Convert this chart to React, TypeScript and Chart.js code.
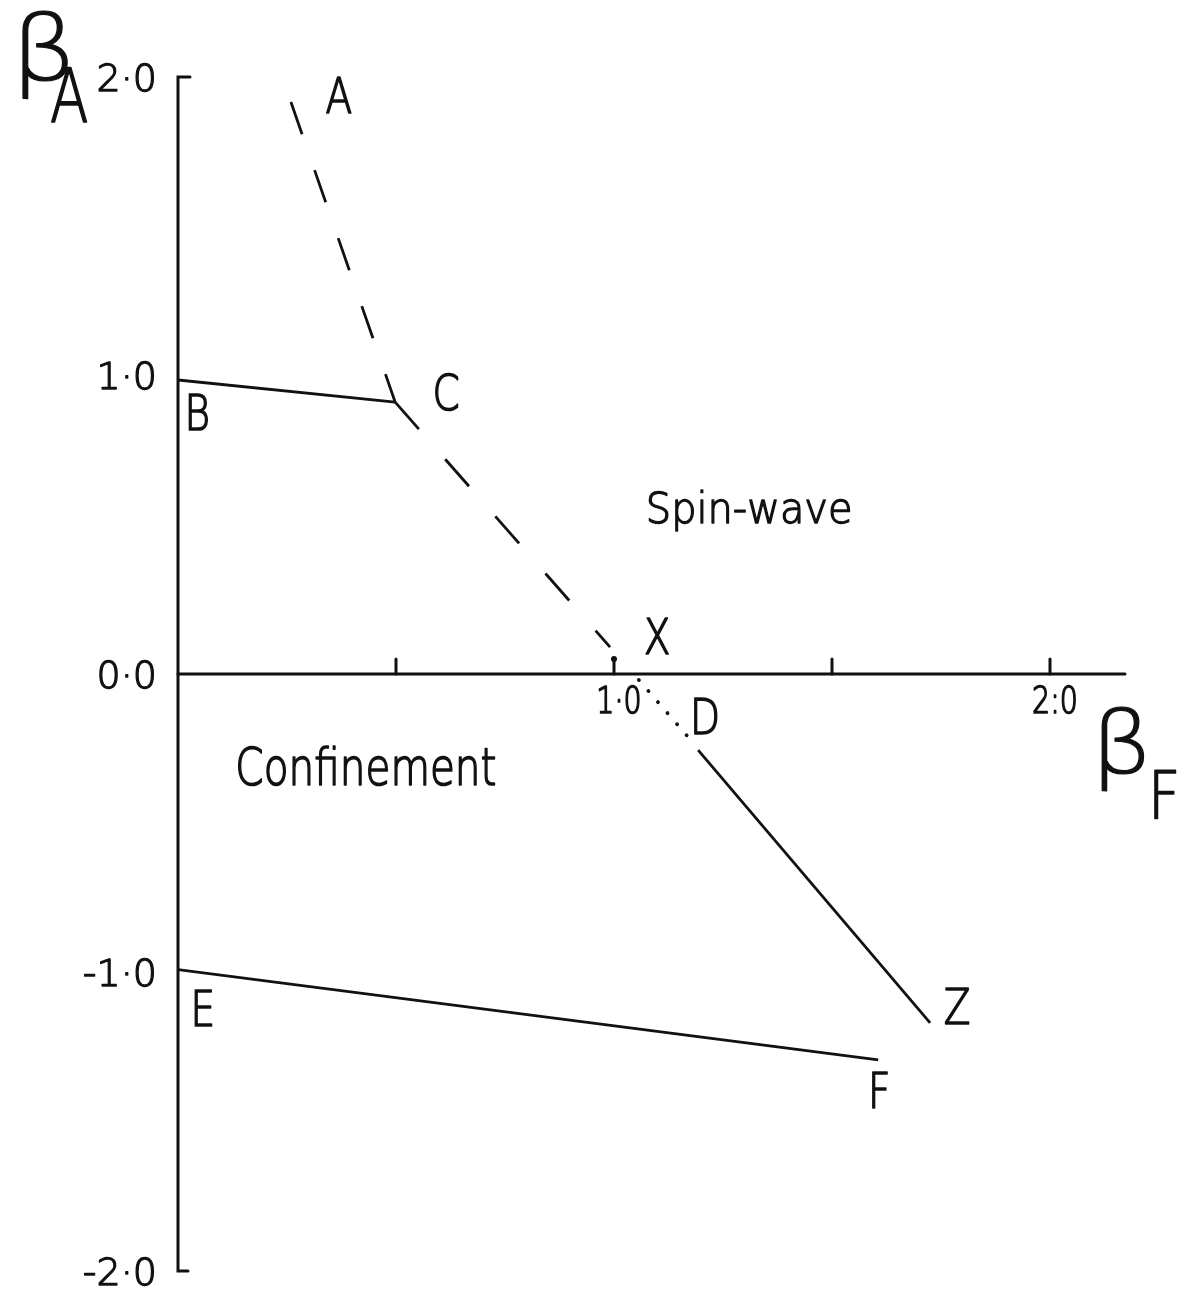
import { useEffect, useRef } from "react";
import { Chart, registerables } from "chart.js";

Chart.register(...registerables);

// Phase boundaries in the (βF, βA) plane, as [βF, βA] pairs
const boundaryAC = [[0.259, 1.916], [0.498, 0.911]]; // dashed, A down to C
const boundaryCX = [[0.498, 0.911], [0.991, 0.09]]; // dashed, C down to X
const boundaryXD = [[1.057, -0.02], [1.17, -0.211]]; // dotted, X to D
const boundaryDZ = [[1.193, -0.255], [1.725, -1.169]]; // solid, D to Z
const boundaryBC = [[0, 0.985], [0.498, 0.911]]; // solid, B to C
const boundaryEF = [[0, -0.99], [1.606, -1.293]]; // solid, E to F

const xRange = [0, 2.172];
const yRange = [-2, 2];
const xTickValues = [0.5, 1.0, 1.5, 2.0];
const xTickLabels = ["", "1·0", "", "2:0"];
const yTickValues = [2, 1, 0, -1, -2];
const yTickLabels = ["2·0", "1·0", "0·0", "-1·0", "-2·0"];

const pointNames = ["A", "B", "C", "X", "D", "E", "Z", "F"];
const pointNameX = [0.369, 0.044, 0.615, 1.099, 1.209, 0.057, 1.787, 1.608];
const pointNameY = [1.94, 0.878, 0.945, 0.127, -0.141, -1.119, -1.112, -1.394];

const regionNames = ["Spin-wave", "Confinement"];
const regionX = [1.31, 0.431];
const regionY = [0.556, -0.308];

const FAMILY = '"DejaVu Sans", "Liberation Sans", sans-serif';
const WEIGHT = "200";
const CAP = 0.729;
const INK = "#111";
const TEXT_STROKE = 1.3;

const toPoints = (pairs: number[][]) => pairs.map(([x, y]) => ({ x, y }));

function paintText(ctx: CanvasRenderingContext2D, text: string, sx: number) {
  ctx.scale(sx, 1);
  ctx.fillText(text, 0, 0);
  ctx.lineWidth = TEXT_STROKE / sx;
  ctx.lineJoin = "round";
  ctx.strokeText(text, 0, 0);
}

// Text centred on (cx, cy) by cap height, squeezed horizontally by sx
function drawCentered(
  ctx: CanvasRenderingContext2D,
  text: string,
  cx: number,
  cy: number,
  size: number,
  sx: number,
  align: "center" | "right" | "left" = "center"
) {
  ctx.save();
  ctx.font = `${WEIGHT} ${size}px ${FAMILY}`;
  ctx.textBaseline = "alphabetic";
  ctx.textAlign = "left";
  ctx.fillStyle = INK;
  ctx.strokeStyle = INK;
  const w = ctx.measureText(text).width * sx;
  let x0 = cx - w / 2;
  if (align === "right") x0 = cx - w;
  if (align === "left") x0 = cx;
  ctx.translate(x0, cy + (CAP * size) / 2);
  paintText(ctx, text, sx);
  ctx.restore();
}

function drawAtBaseline(
  ctx: CanvasRenderingContext2D,
  text: string,
  left: number,
  baseline: number,
  size: number,
  sx: number
) {
  ctx.save();
  ctx.font = `${WEIGHT} ${size}px ${FAMILY}`;
  ctx.textBaseline = "alphabetic";
  ctx.textAlign = "left";
  ctx.fillStyle = INK;
  ctx.strokeStyle = INK;
  ctx.translate(left, baseline);
  paintText(ctx, text, sx);
  ctx.restore();
}

const phaseAxes = {
  id: "phaseAxes",
  afterDatasetsDraw(chart: Chart) {
    const ctx = chart.ctx;
    const xs = chart.scales.x;
    const ys = chart.scales.y;
    const x0 = xs.getPixelForValue(0);
    const y0 = ys.getPixelForValue(0);
    const yTop = ys.getPixelForValue(yRange[1]);
    const yBot = ys.getPixelForValue(yRange[0]);
    const xEnd = xs.getPixelForValue(xRange[1]);

    ctx.save();
    ctx.strokeStyle = INK;
    ctx.lineWidth = 3;
    ctx.lineCap = "round";

    // vertical βA axis with small end serifs
    ctx.beginPath();
    ctx.moveTo(x0 + 12, yTop);
    ctx.lineTo(x0, yTop);
    ctx.lineTo(x0, yBot);
    ctx.lineTo(x0 + 10, yBot);
    ctx.stroke();

    // horizontal βF axis
    ctx.beginPath();
    ctx.moveTo(x0, y0);
    ctx.lineTo(xEnd, y0);
    ctx.stroke();

    // upward tick marks on the βF axis
    xTickValues.forEach((v, i) => {
      const px = xs.getPixelForValue(v);
      ctx.beginPath();
      ctx.moveTo(px, y0);
      ctx.lineTo(px, y0 - 15);
      ctx.stroke();
      if (v === 1) {
        ctx.beginPath();
        ctx.fillStyle = INK;
        ctx.arc(px, y0 - 15, 3, 0, Math.PI * 2);
        ctx.fill();
      }
      if (xTickLabels[i]) drawCentered(ctx, xTickLabels[i], px + 5, y0 + 25, 38, 0.75);
    });
    ctx.restore();

    // βA tick labels
    yTickValues.forEach((v, i) => {
      drawCentered(ctx, yTickLabels[i], x0 - 21, ys.getPixelForValue(v), 38, 1.0, "right");
    });

    // point names
    pointNames.forEach((n, i) => {
      drawCentered(ctx, n, xs.getPixelForValue(pointNameX[i]), ys.getPixelForValue(pointNameY[i]), 50, 0.78);
    });

    // region names
    drawCentered(ctx, regionNames[0], xs.getPixelForValue(regionX[0]), ys.getPixelForValue(regionY[0]), 42, 0.95);
    drawCentered(ctx, regionNames[1], xs.getPixelForValue(regionX[1]), ys.getPixelForValue(regionY[1]), 52, 0.78);

    // axis titles βA and βF
    drawAtBaseline(ctx, "β", x0 - 167, yTop + 3, 90, 1.15);
    drawAtBaseline(ctx, "A", x0 - 128, yTop + 45, 74, 0.76);
    drawAtBaseline(ctx, "β", xEnd - 34, y0 + 99, 88, 1.1);
    drawAtBaseline(ctx, "F", xEnd + 23, y0 + 144, 66, 0.85);
  },
};

export default function App() {
  const ref = useRef<HTMLCanvasElement | null>(null);

  useEffect(() => {
    if (!ref.current) return;
    const line = (pairs: number[][], dash: number[], width = 2.8, cap: CanvasLineCap = "butt") => ({
      data: toPoints(pairs),
      showLine: true,
      borderColor: INK,
      borderWidth: width,
      borderDash: dash,
      borderCapStyle: cap,
      pointRadius: 0,
      fill: false,
    });
    const chart = new Chart(ref.current, {
      type: "scatter",
      data: {
        datasets: [
          line(boundaryAC, [34, 38]),
          line(boundaryCX, [36, 40]),
          line(boundaryXD, [0.1, 14.5], 3.8, "round"),
          line(boundaryDZ, []),
          line(boundaryBC, []),
          line(boundaryEF, []),
        ],
      },
      options: {
        animation: false,
        responsive: false,
        devicePixelRatio: 1,
        layout: { padding: { left: 178, right: 62, top: 77, bottom: 23 } },
        plugins: { legend: { display: false }, tooltip: { enabled: false } },
        scales: {
          x: { type: "linear", min: xRange[0], max: xRange[1], display: false },
          y: { type: "linear", min: yRange[0], max: yRange[1], display: false },
        },
      },
      plugins: [phaseAxes],
    });
    return () => chart.destroy();
  }, []);

  return (
    <div style={{ position: "absolute", left: 0, top: 0, width: 1187, height: 1294, background: "#fff" }}>
      <canvas ref={ref} width={1187} height={1294} style={{ display: "block" }} />
    </div>
  );
}
